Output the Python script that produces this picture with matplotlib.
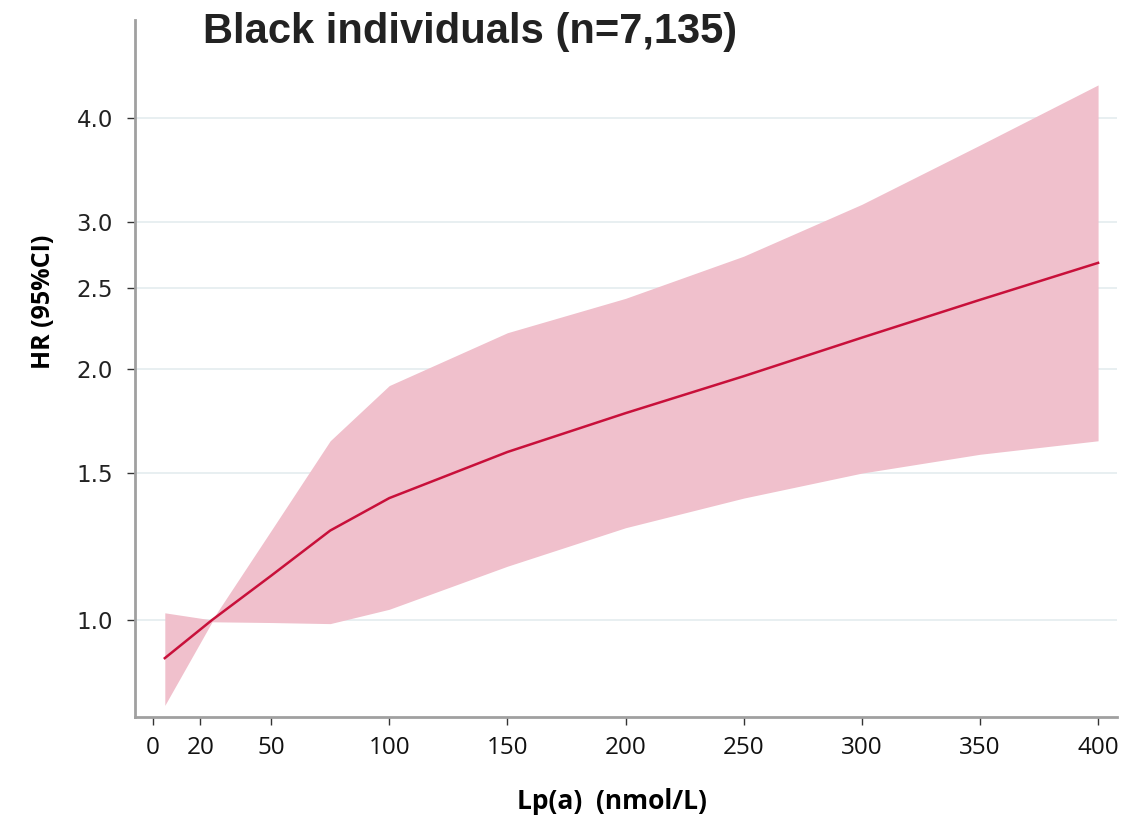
import numpy as np
import matplotlib.pyplot as plt
from matplotlib.ticker import FixedLocator, NullLocator

lpa = [5, 25, 50, 75, 100, 150, 200, 250, 300, 350, 400]
hr = [0.90, 1.0, 1.13, 1.28, 1.40, 1.59, 1.77, 1.96, 2.18, 2.42, 2.68]
ci_low = [0.79, 0.995, 0.993, 0.99, 1.03, 1.16, 1.29, 1.40, 1.50, 1.58, 1.64]
ci_high = [1.02, 1.0, 1.28, 1.64, 1.91, 2.21, 2.43, 2.73, 3.15, 3.71, 4.38]

xticks = [0, 20, 50, 100, 150, 200, 250, 300, 350, 400]
yticks = [1.0, 1.5, 2.0, 2.5, 3.0, 4.0]

fig = plt.figure(figsize=(11.31, 8.16), dpi=100)
ax = fig.add_axes([0.1194, 0.1213, 0.8682, 0.8542])

ax.fill_between(lpa, ci_low, ci_high, color='#f0c0cc', linewidth=0, zorder=2)
ax.plot(lpa, hr, color='#c8103a', linewidth=1.8, zorder=3)

ax.set_yscale('log')
ax.set_ylim(0.765, 5.24)
ax.set_xlim(-7.6, 408)

ax.yaxis.set_major_locator(FixedLocator(yticks))
ax.yaxis.set_minor_locator(NullLocator())
ax.set_yticklabels([f"{v:.1f}" for v in yticks], fontsize=16.5, color='#222222',
                   family='DejaVu Sans')
ax.set_xticks(xticks)
ax.set_xticklabels([str(v) for v in xticks], fontsize=17.5, color='#111111',
                   family='Open Sans')

ax.grid(axis='y', color='#e4ecef', linewidth=1.2, zorder=0)
ax.set_axisbelow(True)

for s in ['top', 'right']:
    ax.spines[s].set_visible(False)
for s in ['left', 'bottom']:
    ax.spines[s].set_color('#a0a0a0')
    ax.spines[s].set_linewidth(2)

ax.tick_params(axis='both', direction='out', length=6, width=1, color='#333333')
ax.tick_params(axis='y', pad=10)
ax.tick_params(axis='x', pad=8)

ax.set_ylabel('HR (95%CI)', fontsize=18, fontweight='bold', family='Open Sans')
ax.yaxis.set_label_coords(-0.08, 0.595)
ax.set_xlabel('Lp(a)  (nmol/L)', fontsize=19, fontweight='bold', family='Open Sans')
ax.xaxis.set_label_coords(0.486, -0.102)

fig.text(0.4156, 0.961, 'Black individuals (n=7,135)', fontsize=30,
         fontweight='bold', family='Liberation Sans', color='#222222',
         ha='center', va='center')

fig.savefig('out.png', dpi=100)
